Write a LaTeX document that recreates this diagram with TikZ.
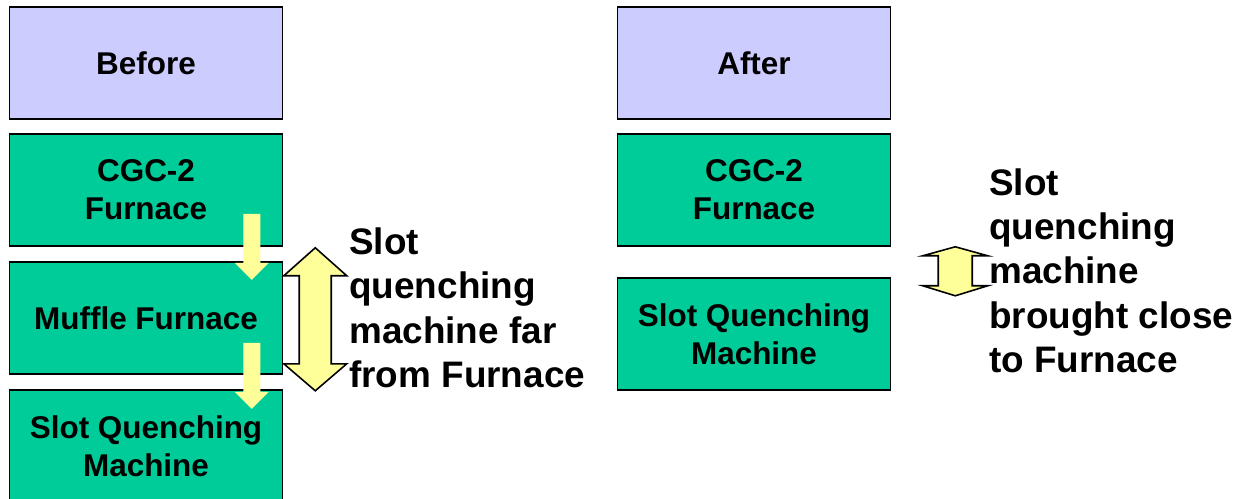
\documentclass[tikz,border=0pt]{standalone}
\usepackage{fontspec}
\setmainfont{Liberation Sans}
\usepackage{tikz}
\usetikzlibrary{calc}

\begin{document}
\begin{tikzpicture}[x=0.02cm, y=-0.02cm,
block/.style={rectangle, inner sep=0pt, align=center, minimum width=5.46cm, minimum height=2.24cm, draw=black, line width=0.9pt, font=\fontsize{17.9}{21.6}\selectfont\bfseries},
str/.style={rectangle, inner sep=0pt, anchor=north west, align=left, font=\fontsize{21}{25.3}\selectfont\bfseries},
flow/.style={fill=flowyellow, draw=none},
gap/.style={fill=flowyellow, draw=black, line width=0.9pt, line join=miter}]

    \definecolor{head}{RGB}{204,204,255}
    \definecolor{stage}{RGB}{0,204,153}
    \definecolor{flowyellow}{RGB}{255,255,153}

	\clip (0,0) rectangle (1236,498);

	\node[block, fill=head] (before) at (146,63) {Before};
	\node[block, fill=stage] (cgcL) at (146,190) {CGC-2\\Furnace};
	\node[block, fill=stage] (muffle) at (146,318) {Muffle Furnace};
	\node[block, fill=stage] (slotL) at (146,446) {Slot Quenching\\Machine};

	\node[block, fill=head] (after) at (754,63) {After};
	\node[block, fill=stage] (cgcR) at (754,190) {CGC-2\\Furnace};
	\node[block, fill=stage] (slotR) at (754,334) {Slot Quenching\\Machine};

	\draw[flow] ($(cgcL.south east)+(-40,-33)$) -- ++(17,0) -- ++(0,49) -- ++(8.5,0) -- ++(-17,17) -- ++(-17,-17) -- ++(8.5,0) -- cycle;
	\draw[flow] ($(muffle.south east)+(-40,-32)$) -- ++(17,0) -- ++(0,49) -- ++(8.5,0) -- ++(-17,17) -- ++(-17,-17) -- ++(8.5,0) -- cycle;

	\draw[gap] ($(cgcL.south east)+(32,1)$) -- ++(31.5,28) -- ++(-15.5,0) -- ++(0,88) -- ++(15.5,0) -- ++(-31.5,27) -- ++(-31.5,-27) -- ++(15.5,0) -- ++(0,-88) -- ++(-15.5,0) -- cycle;
	\draw[gap] ($(cgcR.south east)+(64,0)$) -- ++(32.5,9) -- ++(-15.5,0) -- ++(0,30) -- ++(15.5,0) -- ++(-32.5,10) -- ++(-32.5,-10) -- ++(15.5,0) -- ++(0,-30) -- ++(-15.5,0) -- cycle;

	\node[str] (farL) at (349,227) {Slot\\quenching\\machine far\\from Furnace};
	\node[str] (closeR) at (989,168) {Slot\\quenching\\machine\\brought close\\to Furnace};
\end{tikzpicture}
\end{document}
